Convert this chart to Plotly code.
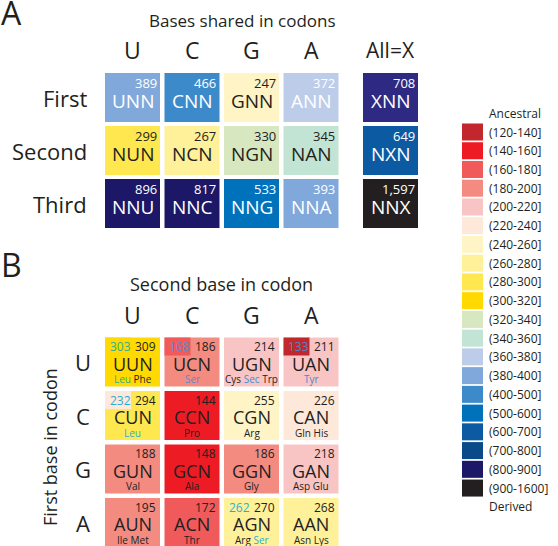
import plotly.graph_objects as go

# ---------------- data ----------------
A_rows = ["First", "Second", "Third"]
A_cols = ["U", "C", "G", "A"]
A_counts = [[389, 466, 247, 372],
            [299, 267, 330, 345],
            [896, 817, 533, 393]]
A_codes = [["UNN", "CNN", "GNN", "ANN"],
           ["NUN", "NCN", "NGN", "NAN"],
           ["NNU", "NNC", "NNG", "NNA"]]
A_all_header = "All=X"
A_all_counts = [708, 649, 1597]
A_all_codes = ["XNN", "NXN", "NNX"]

B_first = ["U", "C", "G", "A"]    # rows: first base
B_second = ["U", "C", "G", "A"]   # cols: second base
B_counts = [[309, 186, 214, 211],
            [294, 144, 255, 226],
            [188, 148, 186, 218],
            [195, 172, 270, 268]]
# ancestral counts (row, col, value)
B_ancestral = [(0, 0, 303), (0, 1, 168), (0, 3, 133), (1, 0, 232), (3, 2, 262)]
# amino acids; "*" marks the highlighted (ancestral-split) one
B_amino = [[["Leu*", "Phe"], ["Ser*"], ["Cys", "Sec*", "Trp"], ["Tyr*"]],
           [["Leu*"], ["Pro"], ["Arg"], ["Gln", "His"]],
           [["Val"], ["Ala"], ["Gly"], ["Asp", "Glu"]],
           [["Ile", "Met"], ["Thr"], ["Arg", "Ser*"], ["Asn", "Lys"]]]
B_highlight = [["#35ad91", "#5b8ccb", "#3f8fd4", "#4f86c6"],
               ["#27afd6", None, None, None],
               [None, None, None, None],
               [None, None, "#1fb3d3", None]]

bin_edges = [120, 140, 160, 180, 200, 220, 240, 260, 280, 300, 320, 340,
             360, 380, 400, 500, 600, 700, 800, 900, 1600]
bin_colors = ["#c1272d", "#ed1c24", "#f05a5a", "#f48b80", "#f9c5c4",
              "#fde8da", "#fff4c6", "#fff09a", "#ffe84f", "#ffd900",
              "#d7e7c0", "#c2e4d4", "#bdcde9", "#80a8da", "#3d8acb",
              "#0072bc", "#0b5aa2", "#0b4a88", "#1c1766", "#231f20"]
override_colors = {"XNN": "#2e2a84"}

# ---------------- style / layout ----------------
W, H = 558, 546
FONT = "Open Sans"
DARK = "#231f20"
X0, PITCH, CW = 105, 59.5, 55
XALL = 363
A_TOP, A_PITCH, CH = 73, 53, 49
B_TOP, B_PITCH = 337.5, 53.5
LEG_X, LEG_Y0, LEG_P, LEG_W, LEG_H = 462, 132, 18.74, 21, 17

shapes, ann = [], []


def bin_index(v):
    for i in range(len(bin_edges) - 1):
        if bin_edges[i] < v <= bin_edges[i + 1]:
            return i
    return len(bin_colors) - 1


def color_of(v, code=None):
    if code in override_colors:
        return override_colors[code]
    return bin_colors[bin_index(v)]


def rect(x0, y0, x1, y1, color):
    shapes.append(dict(type="rect", xref="x", yref="y", x0=x0, y0=y0, x1=x1, y1=y1,
                       fillcolor=color, line=dict(width=0)))


def text(x, y, s, size, color=DARK, xanchor="center", yanchor="middle", angle=0):
    ann.append(dict(x=x, y=y, xref="x", yref="y", text=s, showarrow=False,
                    font=dict(family=FONT, size=size, color=color),
                    xanchor=xanchor, yanchor=yanchor, textangle=angle,
                    borderpad=0, align="center"))


def a_cell(x, y, val, code):
    col = color_of(val, code)
    light = bin_index(val) >= 12 or code in override_colors
    tc = "white" if light else DARK
    rect(x, y, x + CW, y + CH, col)
    text(x + CW - 2.5, y + 9.5, f"{val:,}", 13, tc, xanchor="right")
    text(x + CW / 2, y + 27.5, code, 19, tc)


# ---------------- panel A ----------------
text(0, 12, "A", 32, xanchor="left")
text(242, 20, "Bases shared in codons", 17)
for j, c in enumerate(A_cols):
    text(X0 + j * PITCH + CW / 2, 50, c, 23)
text(XALL + CW / 2, 50, A_all_header, 21)
for i, r in enumerate(A_rows):
    y = A_TOP + i * A_PITCH
    text(88, y + CH / 2, r, 22, xanchor="right")
    for j in range(len(A_cols)):
        a_cell(X0 + j * PITCH, y, A_counts[i][j], A_codes[i][j])
    a_cell(XALL, y, A_all_counts[i], A_all_codes[i])

# ---------------- panel B ----------------
text(0, 264, "B", 32, xanchor="left")
text(221, 284, "Second base in codon", 18)
for j, c in enumerate(B_second):
    text(X0 + j * PITCH + CW / 2, 315, c, 23)
text(50, 447, "First base in codon", 18, angle=-90)
anc = {(r, c): v for r, c, v in B_ancestral}
for i, fb in enumerate(B_first):
    y = B_TOP + i * B_PITCH
    text(83, y + CH / 2, fb, 22)
    for j, sb in enumerate(B_second):
        x = X0 + j * PITCH
        v = B_counts[i][j]
        rect(x, y, x + CW, y + CH, color_of(v))
        hc = B_highlight[i][j]
        if (i, j) in anc:
            av = anc[(i, j)]
            rect(x, y, x + 26, y + 18, color_of(av))
            text(x + 3.5, y + 9, str(av), 12, hc, xanchor="left")
        text(x + CW - 3, y + 9, str(v), 12, xanchor="right")
        text(x + CW / 2, y + 26, fb + sb + "N", 18)
        parts = []
        for aa in B_amino[i][j]:
            if aa.endswith("*"):
                parts.append(f"<span style='color:{hc}'>{aa[:-1]}</span>")
            else:
                parts.append(aa)
        text(x + CW / 2, y + 41.5, " ".join(parts), 10)

# ---------------- legend ----------------
text(488, 113, "Ancestral", 12, xanchor="left")
for k, col in enumerate(bin_colors):
    yc = LEG_Y0 + k * LEG_P
    rect(LEG_X, yc - LEG_H / 2, LEG_X + LEG_W, yc + LEG_H / 2, col)
    text(488, yc, f"({bin_edges[k]}-{bin_edges[k + 1]}]", 12, xanchor="left")
text(488, LEG_Y0 + len(bin_colors) * LEG_P, "Derived", 12, xanchor="left")

fig = go.Figure()
fig.update_layout(
    width=W, height=H, margin=dict(l=0, r=0, t=0, b=0),
    paper_bgcolor="white", plot_bgcolor="white",
    xaxis=dict(range=[0, W], visible=False, fixedrange=True),
    yaxis=dict(range=[H, 0], visible=False, fixedrange=True),
    shapes=shapes, annotations=ann, showlegend=False,
)
fig.write_html("out.html", config={"displayModeBar": False},
               post_script="document.body.style.margin='0';document.body.style.overflow='hidden';")
